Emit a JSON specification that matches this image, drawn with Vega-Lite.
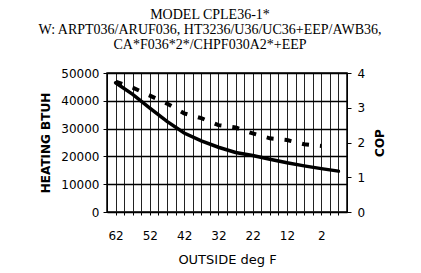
{
  "$schema": "https://vega.github.io/schema/vega-lite/v6.json",
  "width": 240,
  "height": 139,
  "autosize": "none",
  "padding": {"left": 107, "top": 73, "right": 74, "bottom": 61},
  "background": "white",
  "title": {
    "text": ["MODEL CPLE36-1*", "W: ARPT036/ARUF036, HT3236/U36/UC36+EEP/AWB36,", "CA*F036*2*/CHPF030A2*+EEP"],
    "font": "Liberation Serif",
    "fontSize": 14,
    "fontWeight": "normal",
    "lineHeight": 15,
    "color": "black",
    "anchor": "middle",
    "frame": "group",
    "dx": -17,
    "offset": 15
  },
  "config": {
    "view": {"stroke": "black", "strokeWidth": 1.5},
    "axis": {
      "labelFont": "DejaVu Sans",
      "labelFontSize": 12,
      "labelColor": "black",
      "titleFont": "DejaVu Sans",
      "titleColor": "black",
      "domainColor": "black",
      "tickColor": "black",
      "gridColor": "black",
      "gridOpacity": 1
    },
    "axisRight": {"grid": false}
  },
  "data": {
    "values": [
      {"deg": 62, "btuh": 46500, "cop": 3.75},
      {"deg": 57, "btuh": 42300, "cop": 3.58},
      {"deg": 52, "btuh": 37400, "cop": 3.35},
      {"deg": 47, "btuh": 32600, "cop": 3.12},
      {"deg": 42, "btuh": 28400, "cop": 2.84},
      {"deg": 37, "btuh": 25600, "cop": 2.70},
      {"deg": 32, "btuh": 23300, "cop": 2.50},
      {"deg": 27, "btuh": 21400, "cop": 2.43},
      {"deg": 22, "btuh": 20300, "cop": 2.26},
      {"deg": 17, "btuh": 19000, "cop": 2.12},
      {"deg": 12, "btuh": 17700, "cop": 2.07},
      {"deg": 7, "btuh": 16600, "cop": 1.95},
      {"deg": 2, "btuh": 15600, "cop": 1.90},
      {"deg": -3, "btuh": 14700, "cop": null}
    ]
  },
  "encoding": {
    "x": {
      "field": "deg",
      "type": "quantitative",
      "scale": {"domain": [64.5, -5.5], "nice": false, "zero": false},
      "axis": {
        "title": "OUTSIDE deg F",
        "titleFontSize": 13,
        "titleFontWeight": "normal",
        "titlePadding": 12,
        "values": [62, 59.5, 57, 54.5, 52, 49.5, 47, 44.5, 42, 39.5, 37, 34.5, 32, 29.5, 27, 24.5, 22, 19.5, 17, 14.5, 12, 9.5, 7, 4.5, 2, -0.5, -3],
        "labelExpr": "datum.value == 62 || datum.value == 52 || datum.value == 42 || datum.value == 32 || datum.value == 22 || datum.value == 12 || datum.value == 2 ? datum.label : ''",
        "tickSize": 3,
        "labelPadding": 15,
        "grid": true,
        "gridColor": "#222",
        "gridWidth": 1,
        "labelFlush": false,
        "labelOverlap": false
      }
    }
  },
  "layer": [
    {
      "mark": {"type": "line", "color": "black", "strokeWidth": 3.5, "strokeCap": "round"},
      "encoding": {
        "y": {
          "field": "btuh",
          "type": "quantitative",
          "scale": {"domain": [0, 50000], "nice": false},
          "axis": {
            "title": "HEATING BTUH",
            "titleFontSize": 12,
            "titleFontWeight": "bold",
            "titlePadding": 8,
            "values": [0, 10000, 20000, 30000, 40000, 50000],
            "format": "d",
            "tickSize": 4,
            "labelPadding": 4,
            "grid": true,
            "gridWidth": 1.5,
            "gridColor": "black"
          }
        }
      }
    },
    {
      "mark": {"type": "line", "color": "black", "strokeWidth": 4, "strokeDash": [7, 11]},
      "encoding": {
        "y": {
          "field": "cop",
          "type": "quantitative",
          "scale": {"domain": [0, 4], "nice": false},
          "axis": {
            "orient": "right",
            "title": "COP",
            "titleFontSize": 12,
            "titleFontWeight": "bold",
            "titleAngle": -90,
            "titleBaseline": "top",
            "titlePadding": 10,
            "values": [0, 1, 2, 3, 4],
            "tickSize": 4,
            "labelPadding": 6
          }
        }
      }
    }
  ],
  "resolve": {"scale": {"y": "independent"}}
}
